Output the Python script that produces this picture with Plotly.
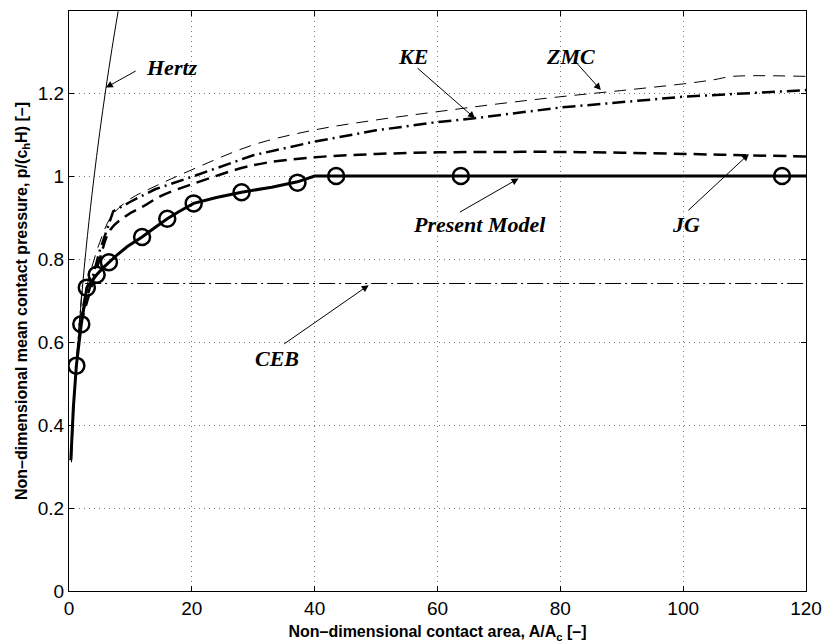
import plotly.graph_objects as go

# ---- data ----
pm_line_x = [0.3, 0.7, 1.2, 2.0, 2.9, 3.7, 4.5, 5.5, 6.5, 8.0, 9.5, 11.9, 14.0, 16.0, 18.0, 20.3, 24.0, 28.1, 33.0, 37.2, 40.0, 120.0]
pm_line_y = [0.315, 0.44, 0.543, 0.643, 0.731, 0.748, 0.762, 0.778, 0.792, 0.812, 0.830, 0.853, 0.876, 0.897, 0.915, 0.934, 0.948, 0.961, 0.973, 0.986, 1.0, 1.0]
pm_mark_x = [1.2, 2.0, 2.9, 4.5, 6.5, 11.9, 16.0, 20.3, 28.1, 37.2, 43.5, 63.8, 116.1]
pm_mark_y = [0.543, 0.643, 0.731, 0.762, 0.792, 0.853, 0.897, 0.934, 0.961, 0.984, 1.0, 1.0, 1.0]

hertz_x = [0.4, 1.0, 2.0, 3.0, 4.0, 5.0, 6.0, 7.0, 8.0]
hertz_y = [0.31, 0.494, 0.699, 0.856, 0.988, 1.105, 1.21, 1.307, 1.397]

ceb_x = [1.2, 2.2, 120.0]
ceb_y = [0.56, 0.741, 0.741]

ke_x = [2.0, 3.0, 5.0, 7.2, 10.0, 14.0, 20.0, 30.0, 40.0, 50.0, 60.0, 66.0, 80.0, 100.0, 120.0]
ke_y = [0.66, 0.71, 0.82, 0.915, 0.938, 0.968, 0.998, 1.05, 1.083, 1.11, 1.13, 1.139, 1.165, 1.191, 1.207]

jg_x = [1.8, 3.0, 5.0, 6.7, 9.4, 12.0, 15.0, 20.0, 30.0, 40.0, 50.0, 60.0, 70.0, 80.0, 90.0, 101.0, 110.0, 120.0]
jg_y = [0.64, 0.70, 0.80, 0.87, 0.905, 0.926, 0.952, 0.98, 1.026, 1.045, 1.053, 1.057, 1.058, 1.058, 1.056, 1.053, 1.05, 1.047]

zmc_x = [1.6, 3.0, 5.0, 7.0, 10.0, 14.0, 20.0, 30.0, 40.0, 50.0, 60.0, 70.0, 80.0, 90.0, 100.0, 105.0, 108.0, 120.0]
zmc_y = [0.64, 0.74, 0.84, 0.905, 0.945, 0.975, 1.015, 1.075, 1.111, 1.135, 1.155, 1.174, 1.191, 1.206, 1.222, 1.232, 1.240, 1.240]

x_ticks = [0, 20, 40, 60, 80, 100, 120]
y_ticks = [0, 0.2, 0.4, 0.6, 0.8, 1.0, 1.2]
y_tick_text = ["0", "0.2", "0.4", "0.6", "0.8", "1", "1.2"]

labels = ["Hertz", "KE", "ZMC", "Present Model", "JG", "CEB"]
label_x = [16.8, 56.0, 81.7, 66.9, 100.5, 33.9]
label_y = [1.262, 1.287, 1.289, 0.882, 0.882, 0.561]
arrow_tail_x = [11.1, 56.5, 82.2, 63.4, 100.6, 34.8]
arrow_tail_y = [1.255, 1.263, 1.280, 0.911, 0.914, 0.593]
arrow_head_x = [6.0, 66.1, 86.6, 73.2, 110.7, 48.8]
arrow_head_y = [1.213, 1.139, 1.207, 0.994, 1.053, 0.737]

fig = go.Figure()

fig.add_trace(go.Scatter(x=hertz_x, y=hertz_y, mode="lines", line_shape="spline",
                         line=dict(color="black", width=1), showlegend=False))
fig.add_trace(go.Scatter(x=ceb_x, y=ceb_y, mode="lines",
                         line=dict(color="black", width=1, dash="16px,4px,2px,4px"), showlegend=False))
fig.add_trace(go.Scatter(x=zmc_x, y=zmc_y, mode="lines", line_shape="spline",
                         line=dict(color="black", width=1, dash="12px,8px"), showlegend=False))
fig.add_trace(go.Scatter(x=ke_x, y=ke_y, mode="lines",
                         line=dict(color="black", width=2.5, dash="13px,5px,2px,5px"), showlegend=False))
fig.add_trace(go.Scatter(x=jg_x, y=jg_y, mode="lines", line_shape="spline",
                         line=dict(color="black", width=2.5, dash="13px,7px"), showlegend=False))
fig.add_trace(go.Scatter(x=pm_line_x, y=pm_line_y, mode="lines",
                         line=dict(color="black", width=3), showlegend=False))
fig.add_trace(go.Scatter(x=pm_mark_x, y=pm_mark_y, mode="markers",
                         marker=dict(symbol="circle-open", size=16, color="black",
                                     line=dict(width=2.5, color="black")),
                         showlegend=False))

annots = []
for t, lx, ly in zip(labels, label_x, label_y):
    annots.append(dict(x=lx, y=ly, xref="x", yref="y", text="<b><i>%s</i></b>" % t,
                       showarrow=False,
                       font=dict(family="Liberation Serif, Times New Roman, serif", size=22, color="black")))
for tx, ty, hx, hy in zip(arrow_tail_x, arrow_tail_y, arrow_head_x, arrow_head_y):
    annots.append(dict(x=hx, y=hy, ax=tx, ay=ty, xref="x", yref="y", axref="x", ayref="y",
                       text="", showarrow=True, arrowhead=2, arrowsize=1.4, arrowwidth=1,
                       arrowcolor="black", standoff=0, startstandoff=0))

fig.update_layout(
    width=824, height=643,
    margin=dict(l=69, r=18, t=11, b=52),
    paper_bgcolor="white", plot_bgcolor="white",
    font=dict(family="Liberation Sans, Arial, sans-serif", size=19, color="black"),
    annotations=annots,
    showlegend=False,
)
fig.update_xaxes(
    range=[0, 120], tickvals=x_ticks, ticks="inside", ticklen=5, tickcolor="black",
    showline=True, linecolor="black", linewidth=1, mirror="ticks", automargin=False,
    showgrid=True, gridcolor="#777777", griddash="1px,4px", gridwidth=1, zeroline=False,
    tickfont=dict(size=19),
    title=dict(text="<b>Non\u2013dimensional contact area, A/A<sub>c</sub> [\u2013]</b>",
               font=dict(size=16), standoff=8),
)
fig.update_yaxes(
    range=[0, 1.3976], tickvals=y_ticks, ticktext=y_tick_text, ticks="inside", ticklen=5, tickcolor="black",
    showline=True, linecolor="black", linewidth=1, mirror="ticks", automargin=False,
    showgrid=True, gridcolor="#777777", griddash="1px,4px", gridwidth=1, zeroline=False,
    tickfont=dict(size=19),
    title=dict(text="<b>Non\u2013dimensional mean contact pressure, p/(c<sub>h</sub>H) [\u2013]</b>",
               font=dict(size=16), standoff=6),
)

fig.write_html("out.html", config={"displayModeBar": False},
               post_script="document.body.style.margin='0';document.body.style.padding='0';")
